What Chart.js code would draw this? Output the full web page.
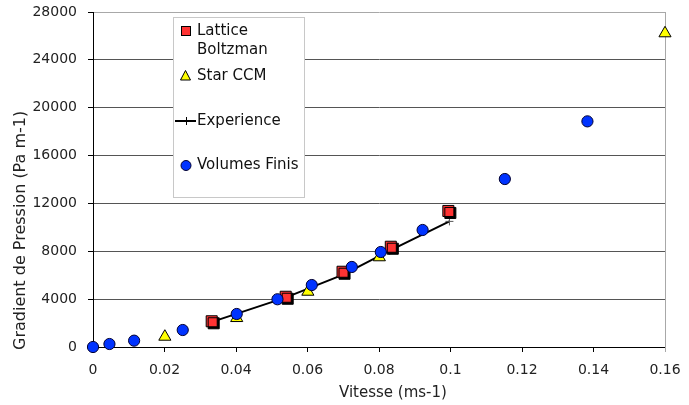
<!DOCTYPE html>
<html>
<head>
<meta charset="utf-8">
<script src="https://cdn.jsdelivr.net/npm/chart.js@4.4.1/dist/chart.umd.min.js"></script>
<style>
  html, body { margin: 0; padding: 0; background: #fff; }
  #wrap { width: 689px; height: 405px; position: relative; }
</style>
</head>
<body>
<div id="wrap"><canvas id="c" width="689" height="405"></canvas></div>
<script>
// Pressure gradient versus velocity, four series
const latticeX = [0.0332, 0.0539, 0.0698, 0.0833, 0.0994];
const latticeY = [2150, 4200, 6290, 8380, 11370];

const starX = [0.0201, 0.0402, 0.0601, 0.0801, 0.16];
const starY = [860, 2420, 4620, 7500, 26220];

const experienceX = [0.0333, 0.054, 0.07, 0.083, 0.0997];
const experienceY = [2100, 4150, 6050, 8050, 10500];

const volumesX = [0, 0.0046, 0.0115, 0.0251, 0.0402, 0.0516, 0.0612, 0.0724, 0.0805, 0.0922, 0.1152, 0.1383];
const volumesY = [0, 250, 530, 1420, 2760, 3990, 5180, 6690, 7940, 9780, 14040, 18860];

const xTicks = [0, 0.02, 0.04, 0.06, 0.08, 0.1, 0.12, 0.14, 0.16];
const yTicks = [0, 4000, 8000, 12000, 16000, 20000, 24000, 28000];

const xTitle = 'Vitesse (ms-1)';
const yTitle = 'Gradient de Pression (Pa m-1)';

const FONT = 'DejaVu Sans';

const pts = (xs, ys) => xs.map((x, i) => ({ x: x, y: ys[i] }));

// Drop shadow under the square markers
const squareShadow = {
  id: 'squareShadow',
  beforeDatasetDraw(chart, args) {
    if (chart.data.datasets[args.index].label === 'Lattice Boltzman') {
      const ctx = chart.ctx;
      ctx.save();
      ctx.shadowColor = '#000';
      ctx.shadowOffsetX = 2;
      ctx.shadowOffsetY = 2;
      ctx.shadowBlur = 0;
    }
  },
  afterDatasetDraw(chart, args) {
    if (chart.data.datasets[args.index].label === 'Lattice Boltzman') {
      chart.ctx.restore();
    }
  }
};

// Right border of the plot area
const plotFrame = {
  id: 'plotFrame',
  beforeDatasetsDraw(chart) {
    const { ctx, chartArea: a } = chart;
    ctx.save();
    ctx.strokeStyle = '#a8a8a8';
    ctx.lineWidth = 1;
    ctx.beginPath();
    ctx.moveTo(Math.round(a.right) + 0.5, a.top);
    ctx.lineTo(Math.round(a.right) + 0.5, a.bottom + 5);
    ctx.stroke();
    ctx.restore();
  }
};

// Axis titles
const axisTitles = {
  id: 'axisTitles',
  afterDraw(chart) {
    const ctx = chart.ctx;
    ctx.save();
    ctx.fillStyle = '#222';
    ctx.textBaseline = 'middle';
    ctx.textAlign = 'left';
    ctx.font = '15px "' + FONT + '"';
    ctx.fillText(xTitle, 339, 393);
    ctx.font = '16px "' + FONT + '"';
    ctx.translate(21, 350);
    ctx.rotate(-Math.PI / 2);
    ctx.fillText(yTitle, 0, 0);
    ctx.restore();
  }
};

// Legend box inside the plot area
const insideLegend = {
  id: 'insideLegend',
  afterDraw(chart) {
    const ctx = chart.ctx;
    ctx.save();
    ctx.fillStyle = '#fff';
    ctx.fillRect(173.5, 17.5, 131, 180);
    ctx.strokeStyle = '#c8c8c8';
    ctx.lineWidth = 1;
    ctx.strokeRect(173.5, 17.5, 131, 180);

    ctx.font = '15px "' + FONT + '"';
    ctx.fillStyle = '#111';
    ctx.textBaseline = 'middle';
    ctx.textAlign = 'left';

    // Lattice Boltzman
    ctx.fillStyle = '#ff3333';
    ctx.fillRect(181, 26, 10, 10);
    ctx.strokeStyle = '#000';
    ctx.strokeRect(181.5, 26.5, 9, 9);
    ctx.fillStyle = '#111';
    ctx.fillText('Lattice', 197, 31);
    ctx.fillText('Boltzman', 197, 50);

    // Star CCM
    ctx.beginPath();
    ctx.moveTo(185.5, 70.5);
    ctx.lineTo(190.5, 80);
    ctx.lineTo(180.5, 80);
    ctx.closePath();
    ctx.fillStyle = '#ffff00';
    ctx.fill();
    ctx.strokeStyle = '#000';
    ctx.stroke();
    ctx.fillStyle = '#111';
    ctx.fillText('Star CCM', 197, 76);

    // Experience
    ctx.strokeStyle = '#000';
    ctx.lineWidth = 2;
    ctx.beginPath();
    ctx.moveTo(175, 121);
    ctx.lineTo(196, 121);
    ctx.stroke();
    ctx.lineWidth = 1;
    ctx.beginPath();
    ctx.moveTo(186.5, 117);
    ctx.lineTo(186.5, 125);
    ctx.stroke();
    ctx.fillText('Experience', 197, 121);

    // Volumes Finis
    ctx.beginPath();
    ctx.arc(186, 165.5, 5, 0, Math.PI * 2);
    ctx.fillStyle = '#0033ff';
    ctx.fill();
    ctx.strokeStyle = '#000033';
    ctx.stroke();
    ctx.fillStyle = '#111';
    ctx.fillText('Volumes Finis', 197, 165.5);
    ctx.restore();
  }
};

const noScalePadding = s => {
  s.paddingTop = 0;
  s.paddingBottom = 0;
  s.paddingLeft = 0;
  s.paddingRight = 0;
};

new Chart(document.getElementById('c'), {
  type: 'scatter',
  data: {
    datasets: [
      {
        label: 'Volumes Finis',
        data: pts(volumesX, volumesY),
        pointStyle: 'circle',
        pointRadius: 5.6,
        pointHoverRadius: 5.6,
        backgroundColor: '#0033ff',
        borderColor: '#000033',
        borderWidth: 1,
        order: 0,
        clip: false
      },
      {
        label: 'Lattice Boltzman',
        data: pts(latticeX, latticeY),
        pointStyle: 'rect',
        pointRadius: 7.8,
        pointHoverRadius: 7.8,
        backgroundColor: '#ff3333',
        borderColor: '#000',
        borderWidth: 1,
        order: 1,
        clip: false
      },
      {
        label: 'Star CCM',
        data: pts(starX, starY),
        pointStyle: 'triangle',
        pointRadius: 7,
        pointHoverRadius: 7,
        backgroundColor: '#ffff00',
        borderColor: '#000',
        borderWidth: 1,
        order: 2,
        clip: false
      },
      {
        label: 'Experience',
        data: pts(experienceX, experienceY),
        showLine: true,
        borderColor: '#000',
        borderWidth: 2,
        pointStyle: 'cross',
        pointRadius: 4,
        pointBorderColor: '#555',
        pointBorderWidth: 1,
        backgroundColor: '#000',
        order: 3,
        clip: false
      }
    ]
  },
  options: {
    responsive: false,
    animation: false,
    events: [],
    layout: { padding: { left: 0, top: 12, right: 24, bottom: 0 } },
    plugins: {
      legend: { display: false },
      tooltip: { enabled: false }
    },
    scales: {
      x: {
        type: 'linear',
        min: 0,
        max: 0.16,
        afterFit(s) { s.height = 58; noScalePadding(s); },
        afterBuildTicks(s) { s.ticks = xTicks.map(v => ({ value: v })); },
        border: { display: true, color: '#000', width: 1 },
        grid: {
          drawOnChartArea: false,
          drawTicks: true,
          tickLength: 5,
          tickColor: '#000'
        },
        ticks: {
          color: '#222',
          padding: 10,
          maxRotation: 0,
          font: { family: FONT, size: 14 },
          callback: v => String(Number(v.toFixed(2)))
        }
      },
      y: {
        type: 'linear',
        min: 0,
        max: 28000,
        afterFit(s) { s.width = 93; noScalePadding(s); },
        afterBuildTicks(s) { s.ticks = yTicks.map(v => ({ value: v })); },
        border: { display: true, color: '#000', width: 1 },
        grid: {
          color: ctx => ctx.tick && ctx.tick.value === 28000 ? '#a8a8a8' : (ctx.tick && ctx.tick.value === 0 ? '#000' : '#555'),
          lineWidth: 1,
          drawTicks: true,
          tickLength: 5,
          tickColor: '#000'
        },
        ticks: {
          color: '#222',
          padding: 11,
          font: { family: FONT, size: 14 },
          callback: v => String(v)
        }
      }
    }
  },
  plugins: [squareShadow, plotFrame, axisTitles, insideLegend]
});
</script>
</body>
</html>
